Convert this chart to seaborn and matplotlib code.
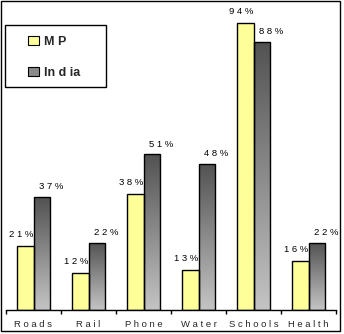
import numpy as np
import pandas as pd
import matplotlib
matplotlib.use("Agg")
import matplotlib.pyplot as plt
import seaborn as sns
from matplotlib.patches import Rectangle, Patch
from matplotlib.colors import LinearSegmentedColormap

categories = ["Roads", "Rail", "Phone", "Water", "Schools", "Health"]
mp_values = [21, 12, 38, 13, 94, 16]
india_values = [37, 22, 51, 48, 88, 22]
series_names = ["MP", "India"]
legend_labels = ["M P", "In d ia"]

df = pd.DataFrame({
    "category": categories * 2,
    "value": mp_values + india_values,
    "series": [series_names[0]] * len(categories) + [series_names[1]] * len(categories),
})

sns.set_theme(style="white")
plt.rcParams["font.family"] = ["Liberation Sans", "DejaVu Sans"]

DPI = 100
fig = plt.figure(figsize=(3.44, 3.34), dpi=DPI)
W, H = 344, 334
ax = fig.add_axes([6 / W, (H - 310) / H, (336 - 6) / W, (310 - 5) / H])

yellow = "#FFFF99"
sns.barplot(data=df, x="category", y="value", hue="series", order=categories,
            hue_order=series_names, palette=[yellow, "#888888"], width=0.6,
            edgecolor="black", linewidth=1.0, saturation=1, ax=ax, legend=False)

ax.set_ylim(0, 100)
ax.set_xlim(-0.5, len(categories) - 0.5)

# gradient for India bars
cmap = LinearSegmentedColormap.from_list("g", ["#C4C4C4", "#525252"])
grad = np.linspace(0, 1, 256).reshape(-1, 1)
n = len(categories)
mp_bars = ax.patches[:n]
india_bars = ax.patches[n:2 * n]
for p in india_bars:
    x0 = p.get_x()
    w = p.get_width()
    h = p.get_height()
    im = ax.imshow(grad, extent=(x0, x0 + w, 0, h), origin="lower", cmap=cmap,
                   aspect="auto", zorder=p.get_zorder() - 0.1, interpolation="bilinear")
    im.set_clip_path(p)
    p.set_facecolor("none")
ax.set_ylim(0, 100)
ax.set_xlim(-0.5, len(categories) - 0.5)

# data labels
lab_font = dict(fontsize=6.8, color="black")
for p, v in zip(mp_bars, mp_values):
    ax.annotate(" ".join(str(v)) + " %", (p.get_x() + p.get_width() / 2, p.get_height()),
                xytext=(-3, 8.5), textcoords="offset points", ha="center", va="center", **lab_font)
for p, v in zip(india_bars, india_values):
    ax.annotate(" ".join(str(v)) + " %", (p.get_x() + p.get_width() / 2, p.get_height()),
                xytext=(7, 7.5), textcoords="offset points", ha="center", va="center", **lab_font)

# axes styling
for s in ["left", "top", "right"]:
    ax.spines[s].set_visible(False)
ax.spines["bottom"].set_color("black")
ax.spines["bottom"].set_linewidth(1.0)
ax.set_yticks([])
ax.set_xlabel("")
ax.set_ylabel("")
ax.set_xticks(range(n))
ax.set_xticklabels([" ".join(c) for c in categories], fontsize=6.8)
ax.tick_params(axis="x", which="major", length=0, pad=7.5)
ax.set_xticks(np.arange(-0.5, n, 1), minor=True)
ax.tick_params(axis="x", which="minor", length=3, width=1.0, color="black", direction="out",
               bottom=True)
ax.patch.set_alpha(0)

# legend
handles = [Patch(facecolor=yellow, edgecolor="black", linewidth=0.8),
           Patch(facecolor="#8A8A8A", edgecolor="black", linewidth=0.8)]
leg = fig.legend(handles, legend_labels, loc="upper left",
                 bbox_to_anchor=(28 / W, 1 - 36 / H), frameon=False,
                 prop=dict(weight="bold", size=9), handlelength=0.9, handleheight=0.7,
                 handletextpad=0.35, labelspacing=1.5, borderpad=0, borderaxespad=0)
fig.patches.append(Rectangle((5 / W, 1 - 87 / H), 101 / W, 62 / H, transform=fig.transFigure,
                             fill=False, edgecolor="black", linewidth=1.0))
# outer border
fig.patches.append(Rectangle((1 / W, 1 - 331 / H), 339 / W, 330 / H, transform=fig.transFigure,
                             fill=False, edgecolor="black", linewidth=1.0))

fig.savefig("out.png", dpi=DPI)
